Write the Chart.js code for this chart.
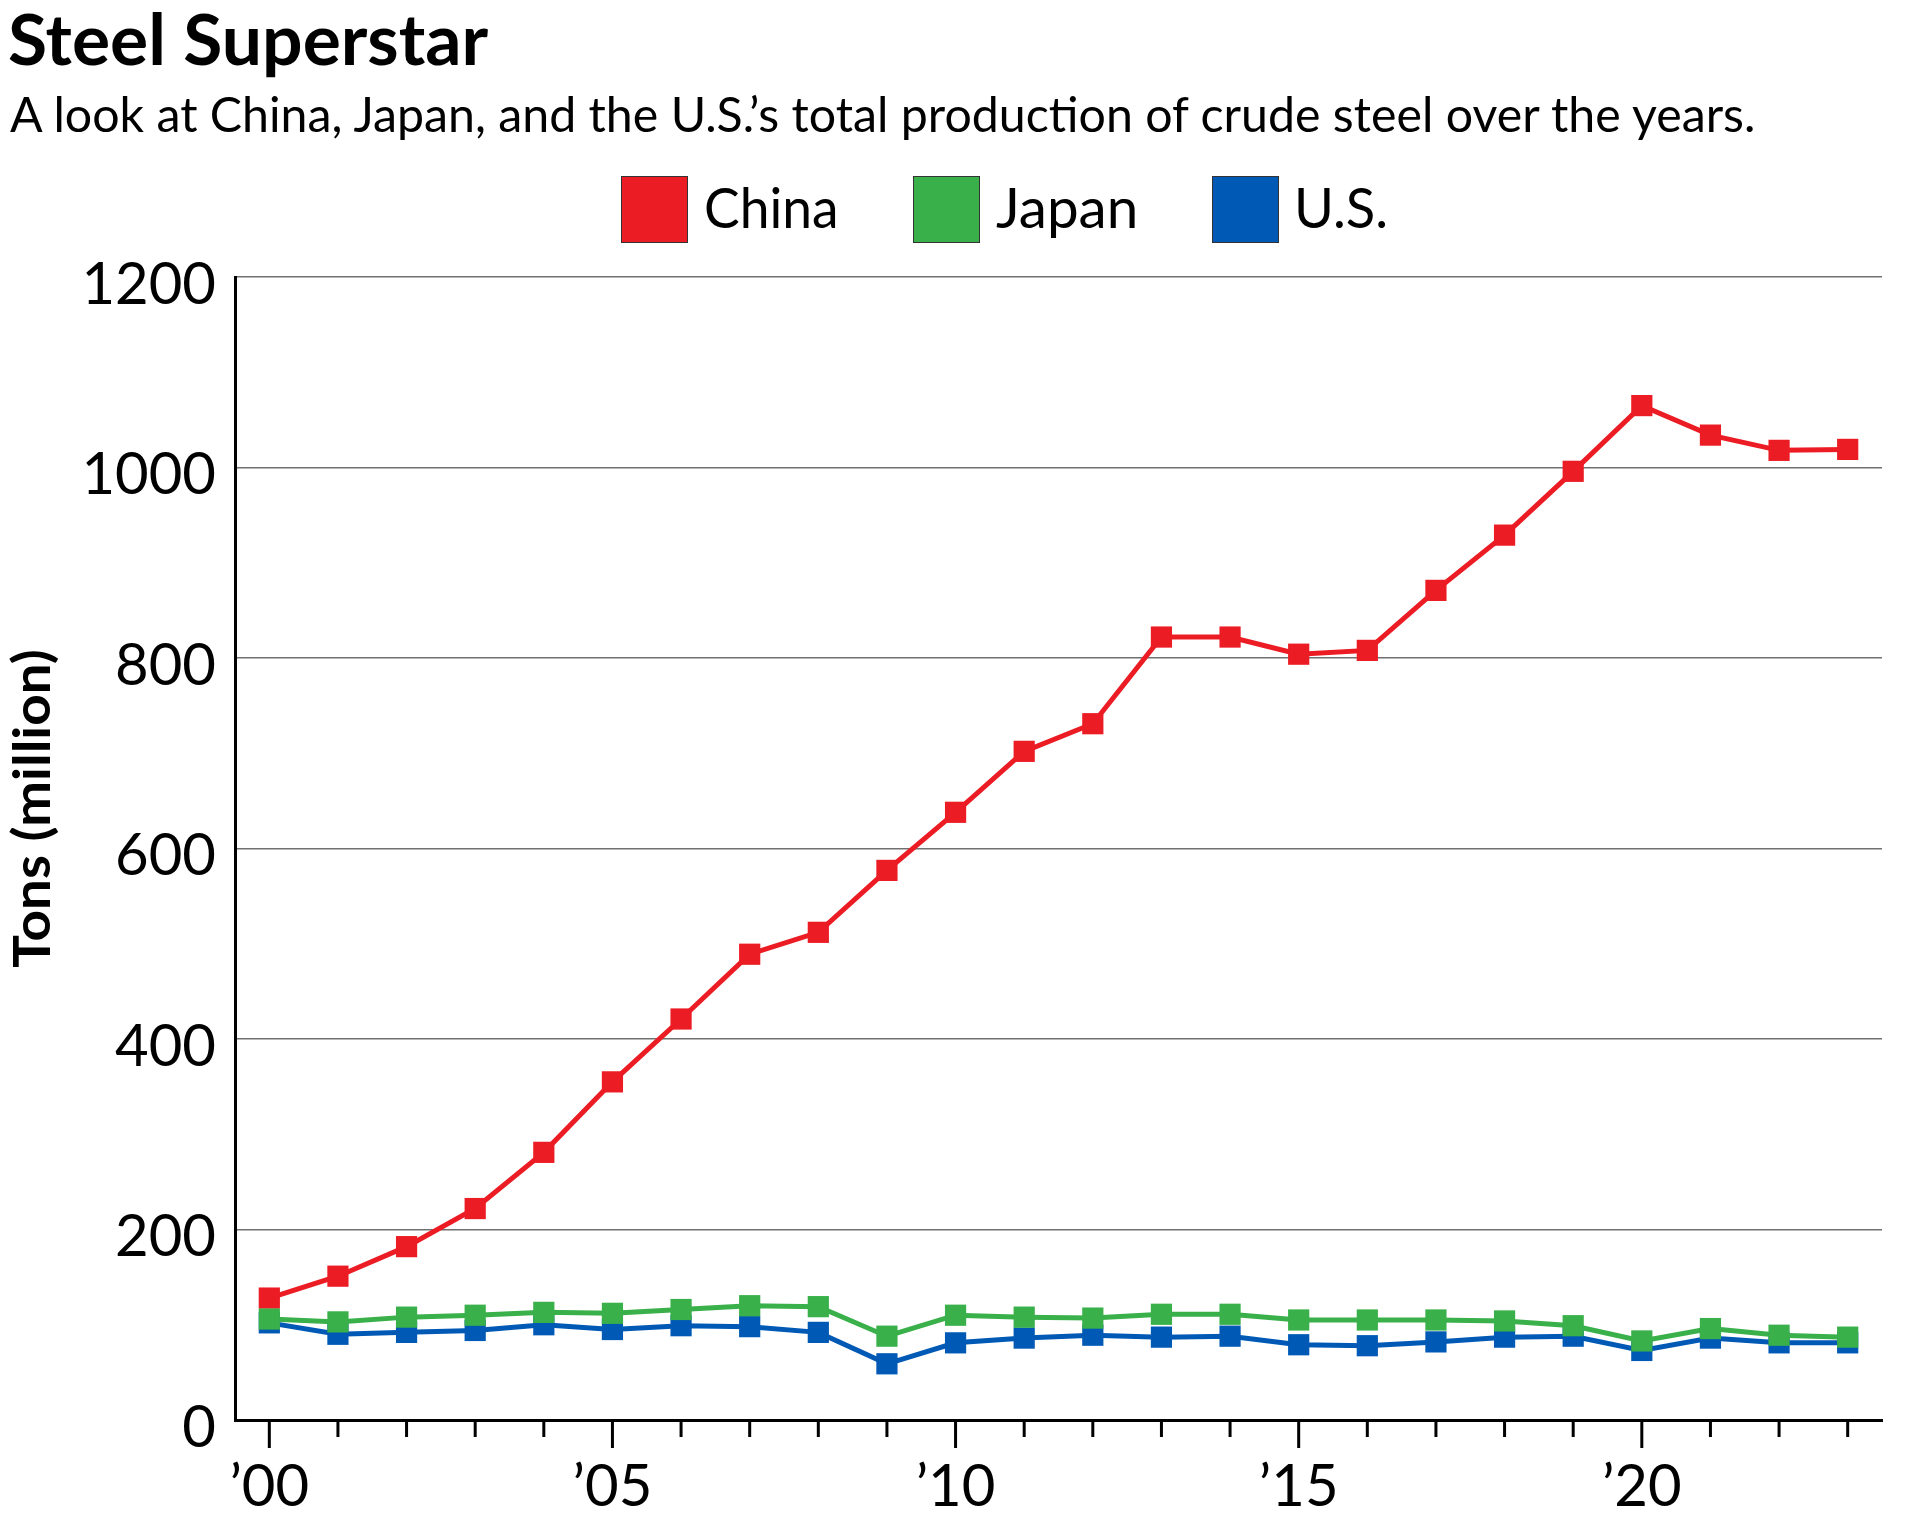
<!DOCTYPE html>
<html>
<head>
<meta charset="utf-8">
<script src="https://cdn.jsdelivr.net/npm/chart.js@4.4.1/dist/chart.umd.min.js"></script>
<style>
  html, body { margin: 0; padding: 0; background: #fff; }
  body { width: 1931px; height: 1531px; position: relative; overflow: hidden; font-family: Lato, "Noto Sans", sans-serif; color: #000; }
  #chartWrap { position: absolute; left: 0; top: 0; width: 1931px; height: 1531px; }
  .txt { position: absolute; white-space: nowrap; line-height: 1; transform-origin: 0 0; margin: 0; }
  #title { font-weight: 700; font-size: 70px; }
  #subtitle { font-weight: 400; font-size: 49px; }
  .ltxt { font-weight: 400; font-size: 56px; }
  .lbox { position: absolute; top: 176px; width: 65px; height: 65px; border: 1px solid #333; }
</style>
</head>
<body>
<div id="chartWrap"><canvas id="c" width="1931" height="1531"></canvas></div>

<div id="title" class="txt" data-l="9" data-r="488" data-b="65">Steel Superstar</div>
<div id="subtitle" class="txt" data-l="10" data-r="1759" data-b="132">A look at China, Japan, and the U.S.’s total production of crude steel over the years.</div>

<div class="lbox" id="box0" style="left:621px;"></div>
<div class="txt ltxt" data-l="706" data-r="836" data-b="228">China</div>
<div class="lbox" id="box1" style="left:913px;"></div>
<div class="txt ltxt" data-l="996" data-r="1135" data-b="228">Japan</div>
<div class="lbox" id="box2" style="left:1212px;"></div>
<div class="txt ltxt" data-l="1298" data-r="1386" data-b="228">U.S.</div>

<script>
// ---------------- DATA ----------------
const years = [2000, 2001, 2002, 2003, 2004, 2005, 2006, 2007, 2008, 2009, 2010, 2011,
               2012, 2013, 2014, 2015, 2016, 2017, 2018, 2019, 2020, 2021, 2022, 2023];
const seriesNames = ["China", "Japan", "U.S."];
const china = [128, 151, 182, 222, 281, 355, 421, 489, 512, 577, 638, 702,
               731, 822, 822, 804, 808, 871, 929, 996, 1065, 1034, 1018, 1019];
const japan = [106, 103, 108, 110, 113, 112, 116, 120, 119, 88, 110, 108,
               107, 111, 111, 105, 105, 105, 104, 99, 83, 96, 89, 87];
const us    = [102, 90, 92, 94, 100, 95, 99, 98, 92, 59, 81, 86,
               89, 87, 88, 79, 78, 82, 87, 88, 73, 86, 81, 81];
const yTicks = [0, 200, 400, 600, 800, 1000, 1200];
const yTickLabels = ["0", "200", "400", "600", "800", "1000", "1200"];
const xTickLabels = {2000: "’00", 2005: "’05", 2010: "’10", 2015: "’15", 2020: "’20"};
const yAxisTitle = "Tons (million)";

// ---------------- STYLE ----------------
const colors = ["#ec1c24", "#39b04a", "#0059b5"];
["box0", "box1", "box2"].forEach((id, i) => { document.getElementById(id).style.background = colors[i]; });

function placeText() {
  const c = document.createElement("canvas").getContext("2d");
  document.querySelectorAll(".txt").forEach(el => {
    const cs = getComputedStyle(el);
    const F = parseFloat(cs.fontSize);
    c.font = cs.fontWeight + " " + F + "px " + cs.fontFamily;
    const m = c.measureText(el.textContent);
    const A = m.fontBoundingBoxAscent, D = m.fontBoundingBoxDescent;
    const inkL = m.actualBoundingBoxLeft, inkR = m.actualBoundingBoxRight;
    const L = +el.dataset.l, R = +el.dataset.r, B = +el.dataset.b;
    const s = (R - L) / (inkR + inkL);
    el.style.top = (B - F / 2 - (A - D) / 2) + "px";
    el.style.left = (L + inkL * s) + "px";
    el.style.transform = "scaleX(" + s + ")";
  });
}

const xTickPlugin = {
  id: "xTickMarks",
  afterDraw(chart) {
    const { ctx, chartArea } = chart;
    const xs = chart.scales.x;
    ctx.save();
    ctx.strokeStyle = "#000";
    ctx.lineWidth = 3;
    years.forEach((yr, i) => {
      const px = xs.getPixelForValue(i);
      const len = (yr % 5 === 0) ? 28 : 17;
      ctx.beginPath();
      ctx.moveTo(px, chartArea.bottom);
      ctx.lineTo(px, chartArea.bottom + len);
      ctx.stroke();
    });
    ctx.restore();
  }
};

const yTitlePlugin = {
  id: "yTitle",
  afterDraw(chart) {
    const ctx = chart.ctx;
    ctx.save();
    ctx.font = "700 52px Lato, 'Noto Sans', sans-serif";
    const m = ctx.measureText(yAxisTitle);
    const ink = m.actualBoundingBoxLeft + m.actualBoundingBoxRight;
    ctx.translate(50, 808.5);
    ctx.rotate(-Math.PI / 2);
    ctx.scale(317 / ink, 1);
    ctx.fillStyle = "#000";
    ctx.textAlign = "center";
    ctx.textBaseline = "alphabetic";
    ctx.fillText(yAxisTitle, 0, 0);
    ctx.restore();
  }
};

function mkDataset(name, data, color, order) {
  return {
    label: name, data: data, borderColor: color, backgroundColor: color,
    borderWidth: 5, pointStyle: "rect", pointRadius: 15, pointHoverRadius: 15,
    pointBorderWidth: 0, pointBackgroundColor: color, tension: 0, order: order
  };
}

function build() {
  placeText();
  Chart.defaults.font.family = "Lato, 'Noto Sans', sans-serif";
  Chart.defaults.color = "#000";
  new Chart(document.getElementById("c"), {
    type: "line",
    data: {
      labels: years.map(String),
      datasets: [
        mkDataset(seriesNames[0], china, colors[0], 1),
        mkDataset(seriesNames[1], japan, colors[1], 0),
        mkDataset(seriesNames[2], us, colors[2], 2)
      ]
    },
    options: {
      responsive: false,
      animation: false,
      events: [],
      layout: { padding: { top: 277, right: 49, left: 0, bottom: 0 } },
      plugins: { legend: { display: false }, title: { display: false }, tooltip: { enabled: false } },
      scales: {
        x: {
          type: "category",
          offset: true,
          afterFit: s => { s.height = 111; },
          grid: { display: false, drawOnChartArea: false, drawTicks: false },
          border: { display: true, color: "#000", width: 3 },
          ticks: {
            autoSkip: false, maxRotation: 0, minRotation: 0, padding: 32,
            font: { size: 58 }, color: "#000",
            callback: (v, i) => xTickLabels[years[i]] || ""
          }
        },
        y: {
          min: 0, max: 1200,
          afterFit: s => { s.width = 235; },
          afterBuildTicks: s => { s.ticks = yTicks.map(v => ({ value: v })); },
          grid: {
            color: "#707070",
            lineWidth: ctx => (ctx.tick && ctx.tick.value === 0) ? 0 : 1.5,
            drawTicks: false
          },
          border: { display: true, color: "#000", width: 3 },
          ticks: {
            padding: 19, labelOffset: 8, font: { size: 58 }, color: "#000",
            callback: (v) => { const k = yTicks.indexOf(v); return k >= 0 ? yTickLabels[k] : ""; }
          }
        }
      }
    },
    plugins: [xTickPlugin, yTitlePlugin]
  });
}

if (document.fonts && document.fonts.ready) {
  document.fonts.load("700 70px Lato").then(() => document.fonts.load("400 49px Lato")).then(build, build);
} else { build(); }
</script>
</body>
</html>
